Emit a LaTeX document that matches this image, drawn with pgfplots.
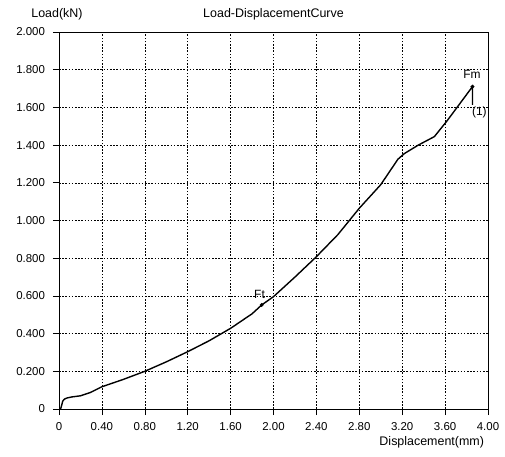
\documentclass[border=0pt]{standalone}
\usepackage{pgfplots}
\pgfplotsset{compat=1.18}
\usepackage{fontspec}
\setmainfont{Liberation Sans}
\begin{document}
\fontsize{11.5}{13}\selectfont
\begin{tikzpicture}
\begin{axis}[
  scale only axis,
  width=429bp, height=377bp,
  xmin=0, xmax=4, ymin=0, ymax=2,
  xtick={0,0.4,0.8,1.2,1.6,2.0,2.4,2.8,3.2,3.6,4.0},
  xticklabels={0,0.40,0.80,1.20,1.60,2.00,2.40,2.80,3.20,3.60,4.00},
  ytick={0,0.2,0.4,0.6,0.8,1.0,1.2,1.4,1.6,1.8,2.0},
  yticklabels={0,0.200,0.400,0.600,0.800,1.000,1.200,1.400,1.600,1.800,2.000},
  tick align=outside,
  major tick length=6bp,
  xtick pos=bottom, ytick pos=left,
  tick style={black, line width=0.6pt},
  axis line style={black, line width=0.8pt},
  grid=major,
  major grid style={black, dash pattern=on 1.6pt off 1.6pt, line width=0.5pt},
  xticklabel style={yshift=-3bp},
  yticklabel style={xshift=-4bp},
  title={Load-DisplacementCurve},
  title style={at={(rel axis cs:0.5,1)}, anchor=base, yshift=9bp, font=\fontsize{12.5}{14}\selectfont},
  ylabel={Load(kN)},
  ylabel style={rotate=-90, at={(rel axis cs:0,1)}, anchor=base, yshift=14bp, xshift=-2bp, font=\fontsize{12.5}{14}\selectfont},
  xlabel={Displacement(mm)},
  xlabel style={at={(rel axis cs:1,0)}, anchor=base east, yshift=-36bp, xshift=0bp, font=\fontsize{12.5}{14}\selectfont},
  clip=false,
]
\addplot[black, line width=1.4pt] coordinates {
(0.015,0) (0.025,0.02) (0.035,0.042) (0.05,0.052) (0.072,0.058) (0.12,0.064)
(0.2,0.070) (0.29,0.087) (0.40,0.118) (0.60,0.157) (0.80,0.200) (1.00,0.250)
(1.2,0.304) (1.4,0.362) (1.6,0.428) (1.8,0.505) (1.89,0.552) (2.0,0.596)
(2.2,0.700) (2.4,0.808) (2.6,0.925) (2.8,1.065) (3.0,1.19) (3.16,1.325)
(3.22,1.355) (3.35,1.40) (3.50,1.445) (3.62,1.53) (3.855,1.71) (3.855,1.613)
};
\addplot[only marks, mark=*, mark size=1.8pt, black] coordinates {(1.89,0.552) (3.855,1.71)};
\node[anchor=south, font=\fontsize{12}{14}\selectfont] at (axis cs:1.87,0.565) {Ft};
\node[anchor=south, font=\fontsize{12}{14}\selectfont] at (axis cs:3.85,1.73) {Fm};
\node[anchor=north, font=\fontsize{12}{14}\selectfont] at (axis cs:3.92,1.625) {(1)};
\end{axis}
\pgfresetboundingbox
\useasboundingbox (-59bp,-48bp) rectangle (446bp,409bp);
\end{tikzpicture}
\end{document}
